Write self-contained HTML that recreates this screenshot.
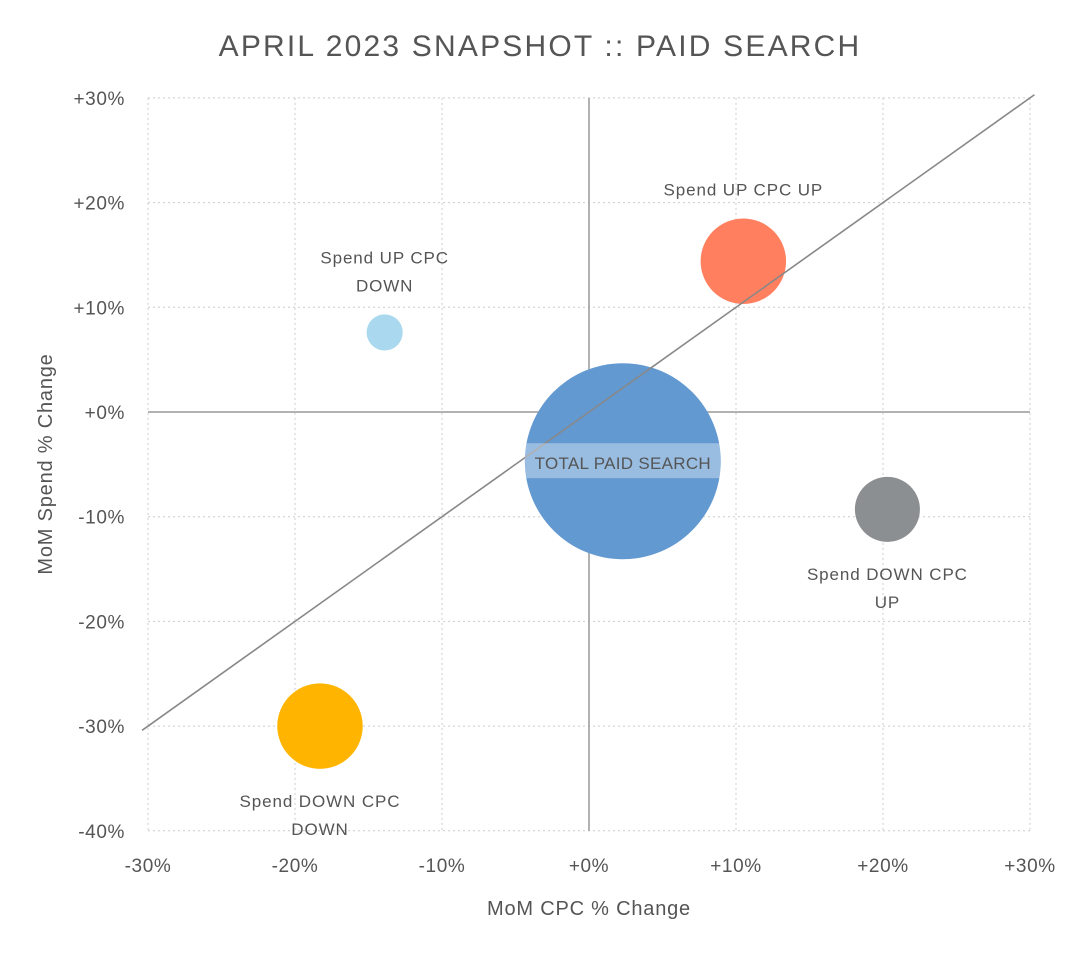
<!DOCTYPE html>
<html><head><meta charset="utf-8"><style>
body{margin:0;background:#fff;}
svg text{font-family:"Liberation Sans",sans-serif;fill:#555;}
</style></head><body>
<svg width="1080" height="949" viewBox="0 0 1080 949">
<text x="540" y="56" text-anchor="middle" font-size="30" letter-spacing="2.2">APRIL 2023 SNAPSHOT :: PAID SEARCH</text>
<g id="grid"></g><g id="ticks"></g><g id="zero"></g><g id="bubbles"></g><g id="diag"></g><g id="labels"></g>
<text x="589" y="915" text-anchor="middle" font-size="20" letter-spacing="0.8">MoM CPC % Change</text>
<text transform="translate(52,464) rotate(-90)" text-anchor="middle" font-size="20" letter-spacing="0.8">MoM Spend % Change</text>
</svg>
<script>
const xTicks=[-30,-20,-10,0,10,20,30];
const yTicks=[30,20,10,0,-10,-20,-30,-40];
const names=["TOTAL PAID SEARCH","Spend UP CPC UP","Spend UP CPC DOWN","Spend DOWN CPC UP","Spend DOWN CPC DOWN"];
const cpc=[2.3,10.5,-13.9,20.3,-18.3];
const spend=[-4.7,14.4,7.6,-9.3,-30];
const sizes=[100,19,3.4,11,19];
const colors=["#6399d1","#ff7f5e","#a9d8ef","#8c8f91","#ffb500"];
const NS="http://www.w3.org/2000/svg";
const X=v=>589+v*14.7, Y=v=>412-v*10.47;
const R=s=>98*Math.sqrt(s/100);
function mk(t,a,p){const e=document.createElementNS(NS,t);for(const k in a)e.setAttribute(k,a[k]);p.appendChild(e);return e;}
const g=document.getElementById('grid'),tk=document.getElementById('ticks'),z=document.getElementById('zero');
xTicks.forEach(v=>{
 const l=mk('line',{x1:X(v),x2:X(v),y1:Y(30),y2:Y(-40),stroke:'#ccc','stroke-dasharray':'2,3'},g);
 
 
 const t=mk('text',{x:X(v),y:872,'text-anchor':'middle','font-size':19,'letter-spacing':0.6},tk);
 t.textContent=(v>=0?'+':'')+v+'%';
 
 
});
yTicks.forEach(v=>{
 const l=mk('line',{x1:X(-30),x2:X(30),y1:Y(v),y2:Y(v),stroke:'#ccc','stroke-dasharray':'2,3'},g);
 
 
 const t=mk('text',{x:125,y:Y(v)+7,'text-anchor':'end','font-size':19,'letter-spacing':0.6},tk);
 t.textContent=(v>=0?'+':'')+v+'%';
 
 
});
let zl=mk('line',{x1:X(0),x2:X(0),y1:Y(30),y2:Y(-40),stroke:'#999','stroke-width':1.5},z);


zl=mk('line',{x1:X(-30),x2:X(30),y1:Y(0),y2:Y(0),stroke:'#999','stroke-width':1.5},z);


const b=document.getElementById('bubbles'),lb=document.getElementById('labels');
const lines=[["TOTAL PAID SEARCH"],["Spend UP CPC UP"],["Spend UP CPC","DOWN"],["Spend DOWN CPC","UP"],["Spend DOWN CPC","DOWN"]];
cpc.forEach((c,i)=>{
 const cx=X(c),cy=Y(spend[i]),r=R(sizes[i]);
 const e=mk('circle',{cx:cx,cy:cy,r:r,fill:colors[i]},b);
 
 
 if(i===0){
  const band=mk('rect',{x:cx-r,y:cy-18,width:2*r,height:35,fill:'#fff','fill-opacity':0.35},lb);
  
  
  const t=mk('text',{x:cx,y:cy+8,'text-anchor':'middle','font-size':17,'letter-spacing':0.3},lb);
  t.textContent=names[i];
  
  
 } else {
  const above=spend[i]>0;
  const ls=lines[i];
  const start= above ? cy-r-29-(ls.length-1)*28 : cy+r+32;
  ls.forEach((s,k)=>{
   const t=mk('text',{x:cx,y:start+k*28+6,'text-anchor':'middle','font-size':17,'letter-spacing':0.9},lb);
   t.textContent=s;
   
   
  });
 }
});
const d=mk('line',{x1:X(-30.4),y1:Y(-30.4),x2:X(30.3),y2:Y(30.3),stroke:'#888','stroke-width':1.6},document.getElementById('diag'));


</script>
</body></html>
